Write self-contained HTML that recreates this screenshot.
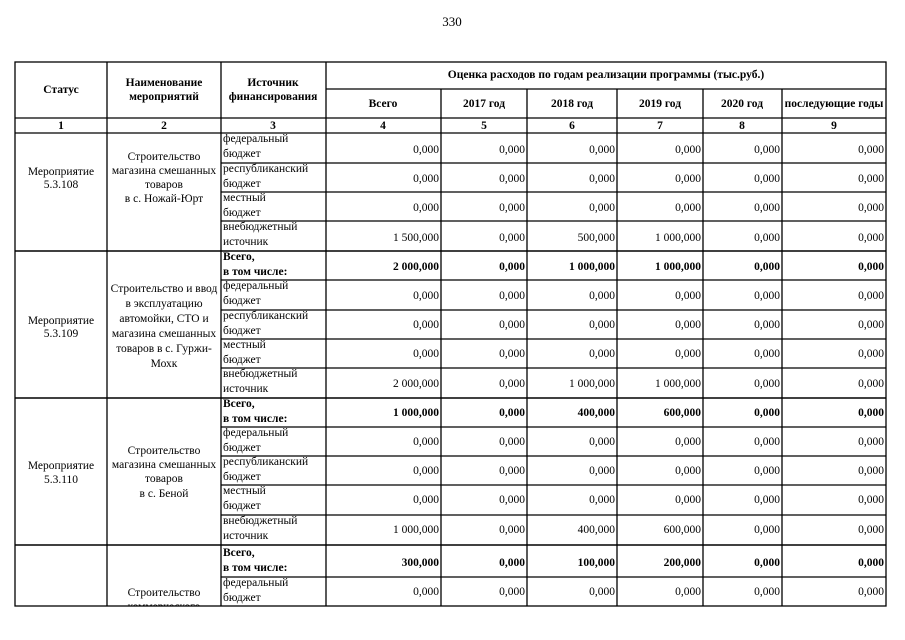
<!DOCTYPE html>
<html><head><meta charset="utf-8"><style>
html,body{margin:0;padding:0;background:#fff;}
svg{display:block;font-family:"Liberation Serif",serif;font-size:11.5px;}
.b{font-weight:bold}
.r{text-anchor:end}
.c{text-anchor:middle}
</style></head><body>
<svg width="905" height="640" viewBox="0 0 905 640" xmlns="http://www.w3.org/2000/svg">
<defs><clipPath id="cp"><rect x="0" y="0" width="905" height="606"/></clipPath></defs>
<text x="452" y="26" class="c" font-size="13">330</text>
<g stroke="#000" stroke-width="1.3" fill="none">
<rect x="15" y="62" width="871" height="544"/>
<line x1="15" y1="118" x2="886" y2="118"/>
<line x1="15" y1="133" x2="886" y2="133"/>
<line x1="326" y1="89" x2="886" y2="89"/>
<line x1="107" y1="62" x2="107" y2="606"/>
<line x1="221" y1="62" x2="221" y2="606"/>
<line x1="326" y1="62" x2="326" y2="606"/>
<line x1="441" y1="89" x2="441" y2="606"/>
<line x1="527" y1="89" x2="527" y2="606"/>
<line x1="617" y1="89" x2="617" y2="606"/>
<line x1="703" y1="89" x2="703" y2="606"/>
<line x1="782" y1="89" x2="782" y2="606"/>
<line x1="15" y1="251" x2="886" y2="251" stroke-width="1.6"/>
<line x1="15" y1="398" x2="886" y2="398" stroke-width="1.6"/>
<line x1="15" y1="545" x2="886" y2="545" stroke-width="1.6"/>
<path d="M221 163H886M221 192H886M221 221H886M221 280H886M221 310H886M221 339H886M221 368H886M221 427H886M221 456H886M221 485H886M221 515H886M221 577H886"/>
</g>
<g class="b">
<text x="61" y="93" class="c">Статус</text>
<text x="164" y="86" class="c">Наименование</text>
<text x="164" y="100" class="c">мероприятий</text>
<text x="273" y="86" class="c">Источник</text>
<text x="273" y="100" class="c">финансирования</text>
<text x="606" y="78" class="c">Оценка расходов по годам реализации  программы (тыс.руб.)</text>
<text x="383" y="107" class="c">Всего</text>
<text x="484" y="107" class="c">2017 год</text>
<text x="572" y="107" class="c">2018 год</text>
<text x="660" y="107" class="c">2019 год</text>
<text x="742" y="107" class="c">2020 год</text>
<text x="834" y="107" class="c">последующие годы</text>
<text x="61" y="129" class="c">1</text><text x="164" y="129" class="c">2</text><text x="273" y="129" class="c">3</text><text x="383" y="129" class="c">4</text><text x="484" y="129" class="c">5</text><text x="572" y="129" class="c">6</text><text x="660" y="129" class="c">7</text><text x="742" y="129" class="c">8</text><text x="834" y="129" class="c">9</text>
</g>
<g clip-path="url(#cp)">
<text x="61" y="175" class="c">Мероприятие</text><text x="61" y="188" class="c">5.3.108</text>
<text x="164" y="160" class="c">Строительство</text><text x="164" y="174" class="c">магазина смешанных</text><text x="164" y="188" class="c">товаров</text><text x="164" y="202" class="c">в с. Ножай-Юрт</text>
<text x="61" y="324" class="c">Мероприятие</text><text x="61" y="337" class="c">5.3.109</text>
<text x="164" y="292" class="c">Строительство и ввод</text><text x="164" y="307" class="c">в эксплуатацию</text><text x="164" y="322" class="c">автомойки, СТО и</text><text x="164" y="337" class="c">магазина смешанных</text><text x="164" y="352" class="c">товаров в с. Гуржи-</text><text x="164" y="367" class="c">Мохк</text>
<text x="61" y="469" class="c">Мероприятие</text><text x="61" y="483" class="c">5.3.110</text>
<text x="164" y="454" class="c">Строительство</text><text x="164" y="468" class="c">магазина смешанных</text><text x="164" y="482" class="c">товаров</text><text x="164" y="497" class="c">в с. Беной</text>
<text x="164" y="596" class="c">Строительство</text><text x="164" y="610" class="c">коммерческого</text>
<g>
<text x="223" y="142">федеральный</text><text x="223" y="157">бюджет</text>
<text x="223" y="172">республиканский</text><text x="223" y="187">бюджет</text>
<text x="223" y="201">местный</text><text x="223" y="216">бюджет</text>
<text x="223" y="230">внебюджетный</text><text x="223" y="245">источник</text>
<text x="223" y="260" class="b">Всего,</text><text x="223" y="275" class="b">в том числе:</text>
<text x="223" y="289">федеральный</text><text x="223" y="304">бюджет</text>
<text x="223" y="319">республиканский</text><text x="223" y="334">бюджет</text>
<text x="223" y="348">местный</text><text x="223" y="363">бюджет</text>
<text x="223" y="377">внебюджетный</text><text x="223" y="392">источник</text>
<text x="223" y="407" class="b">Всего,</text><text x="223" y="422" class="b">в том числе:</text>
<text x="223" y="436">федеральный</text><text x="223" y="451">бюджет</text>
<text x="223" y="465">республиканский</text><text x="223" y="480">бюджет</text>
<text x="223" y="494">местный</text><text x="223" y="509">бюджет</text>
<text x="223" y="524">внебюджетный</text><text x="223" y="539">источник</text>
<text x="223" y="556" class="b">Всего,</text><text x="223" y="571" class="b">в том числе:</text>
<text x="223" y="586">федеральный</text><text x="223" y="601">бюджет</text>
</g>
<g class="r">
<g transform="translate(0,153)"><text x="439">0,000</text><text x="525">0,000</text><text x="615">0,000</text><text x="701">0,000</text><text x="780">0,000</text><text x="884">0,000</text></g>
<g transform="translate(0,182)"><text x="439">0,000</text><text x="525">0,000</text><text x="615">0,000</text><text x="701">0,000</text><text x="780">0,000</text><text x="884">0,000</text></g>
<g transform="translate(0,211)"><text x="439">0,000</text><text x="525">0,000</text><text x="615">0,000</text><text x="701">0,000</text><text x="780">0,000</text><text x="884">0,000</text></g>
<g transform="translate(0,241)"><text x="439">1 500,000</text><text x="525">0,000</text><text x="615">500,000</text><text x="701">1 000,000</text><text x="780">0,000</text><text x="884">0,000</text></g>
<g transform="translate(0,270)" class="b"><text x="439">2 000,000</text><text x="525">0,000</text><text x="615">1 000,000</text><text x="701">1 000,000</text><text x="780">0,000</text><text x="884">0,000</text></g>
<g transform="translate(0,299)"><text x="439">0,000</text><text x="525">0,000</text><text x="615">0,000</text><text x="701">0,000</text><text x="780">0,000</text><text x="884">0,000</text></g>
<g transform="translate(0,328)"><text x="439">0,000</text><text x="525">0,000</text><text x="615">0,000</text><text x="701">0,000</text><text x="780">0,000</text><text x="884">0,000</text></g>
<g transform="translate(0,357)"><text x="439">0,000</text><text x="525">0,000</text><text x="615">0,000</text><text x="701">0,000</text><text x="780">0,000</text><text x="884">0,000</text></g>
<g transform="translate(0,387)"><text x="439">2 000,000</text><text x="525">0,000</text><text x="615">1 000,000</text><text x="701">1 000,000</text><text x="780">0,000</text><text x="884">0,000</text></g>
<g transform="translate(0,416)" class="b"><text x="439">1 000,000</text><text x="525">0,000</text><text x="615">400,000</text><text x="701">600,000</text><text x="780">0,000</text><text x="884">0,000</text></g>
<g transform="translate(0,445)"><text x="439">0,000</text><text x="525">0,000</text><text x="615">0,000</text><text x="701">0,000</text><text x="780">0,000</text><text x="884">0,000</text></g>
<g transform="translate(0,474)"><text x="439">0,000</text><text x="525">0,000</text><text x="615">0,000</text><text x="701">0,000</text><text x="780">0,000</text><text x="884">0,000</text></g>
<g transform="translate(0,503)"><text x="439">0,000</text><text x="525">0,000</text><text x="615">0,000</text><text x="701">0,000</text><text x="780">0,000</text><text x="884">0,000</text></g>
<g transform="translate(0,533)"><text x="439">1 000,000</text><text x="525">0,000</text><text x="615">400,000</text><text x="701">600,000</text><text x="780">0,000</text><text x="884">0,000</text></g>
<g transform="translate(0,566)" class="b"><text x="439">300,000</text><text x="525">0,000</text><text x="615">100,000</text><text x="701">200,000</text><text x="780">0,000</text><text x="884">0,000</text></g>
<g transform="translate(0,595)"><text x="439">0,000</text><text x="525">0,000</text><text x="615">0,000</text><text x="701">0,000</text><text x="780">0,000</text><text x="884">0,000</text></g>
</g>
</g>
</svg>
</body></html>
